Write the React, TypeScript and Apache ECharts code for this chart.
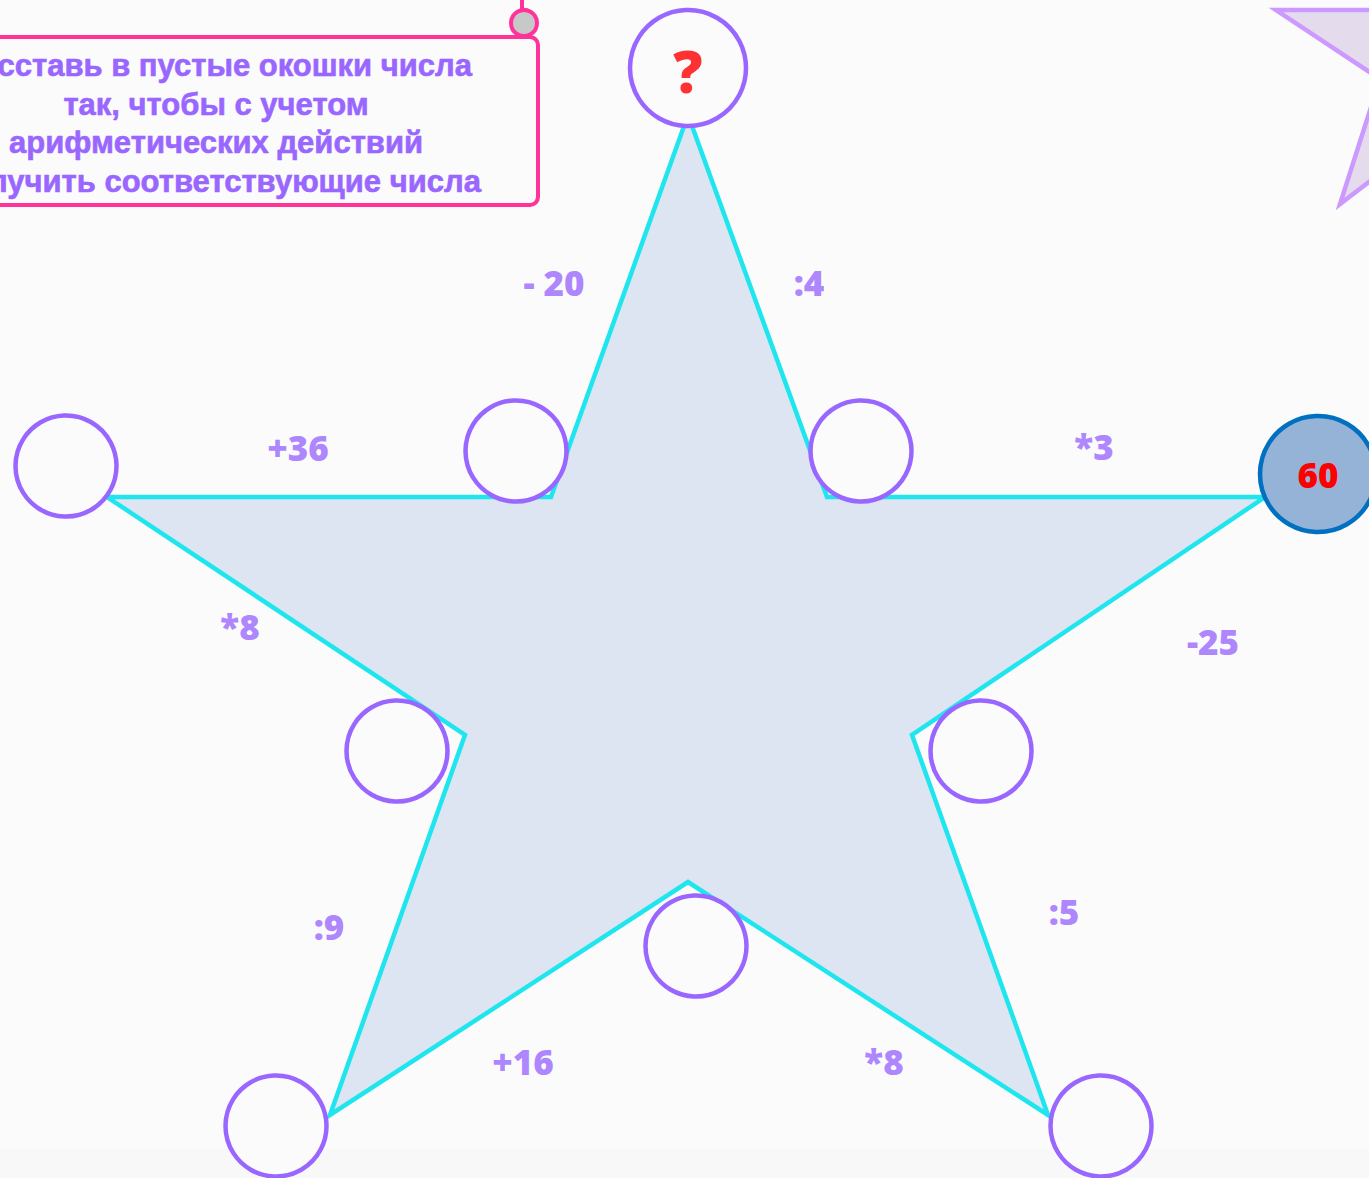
import React, { useEffect, useRef } from "react";
import * as echarts from "echarts";

const W = 1369;
const H = 1178;

// main star vertices (canvas units)
const starX = [688, 827, 1265, 912, 1048, 688, 330, 465, 107, 551];
const starY = [115, 497, 497, 735, 1115, 882, 1115, 735, 497, 497];

// decorative corner star vertices
const cornerX = [1458, 1502, 1640, 1529, 1571, 1450, 1340, 1380, 1276, 1415];
const cornerY = [-110, 10, 10, 85, 204, 120, 204, 79, 10, 10];

// empty windows
const circleX = [688, 516, 861, 66, 397, 981, 696, 276, 1101];
const circleY = [68, 451, 451, 466, 751, 751, 946, 1126, 1126];
const circleD = [116, 101, 101, 101, 101, 101, 101, 101, 101];

// given number
const givenX = [1318];
const givenY = [474];
const givenText = ["60"];

// operations
const opText = ["- 20", ":4", "+36", "*3", "*8", "-25", ":9", ":5", "+16", "*8"];
const opX = [554, 809, 298, 1094, 240, 1213, 329, 1064, 523, 884];
const opY = [282, 282, 447, 446, 626, 641, 926, 911, 1061, 1061];

const taskLines = [
  "Расставь в пустые окошки числа",
  "так, чтобы с учетом",
  "арифметических действий",
  "получить соответствующие числа",
];
const taskLineY = [65, 104, 142, 181];

export default function App() {
  const ref = useRef<HTMLDivElement>(null);
  useEffect(() => {
    document.body.style.margin = "0";
    const chart = echarts.init(ref.current!, null, { renderer: "svg" });
    const polySeries = (xs: number[], ys: number[], fill: string, stroke: string, z: number) => ({
      type: "custom",
      z,
      silent: true,
      data: [0],
      renderItem: (_p: any, api: any) => ({
        type: "polygon",
        shape: { points: xs.map((x, i) => api.coord([x, ys[i]])) },
        style: { fill, stroke, lineWidth: 4.5, lineJoin: "miter" },
      }),
    });
    const labelFont = { fontFamily: "'Open Sans'", fontWeight: 800 };
    chart.setOption({
      animation: false,
      backgroundColor: "#fbfbfb",
      grid: { left: 0, right: 0, top: 0, bottom: 0 },
      xAxis: { type: "value", min: 0, max: W, show: false },
      yAxis: { type: "value", min: 0, max: H, inverse: true, show: false },
      graphic: [
        { type: "rect", z: -10, shape: { x: 0, y: 1149, width: W, height: H - 1149 }, style: { fill: "#f8f8f8" } },
        {
          type: "rect",
          z: 10,
          shape: { x: -20, y: 37, width: 558, height: 168, r: 8 },
          style: { fill: "rgba(0,0,0,0)", stroke: "#ff3399", lineWidth: 4 },
        },
        { type: "line", z: 10, shape: { x1: 522, y1: 0, x2: 522, y2: 10 }, style: { stroke: "#ff3399", lineWidth: 4 } },
        {
          type: "circle",
          z: 11,
          shape: { cx: 524, cy: 23, r: 13 },
          style: { fill: "#c8c8c8", stroke: "#ff3399", lineWidth: 4 },
        },
        ...taskLines.map((t, i) => ({
          type: "text",
          z: 12,
          x: 216,
          y: taskLineY[i],
          style: {
            text: t,
            fill: "#9966ff",
            font: "bold 31px 'Liberation Sans', Arial, sans-serif",
            textAlign: "center",
            textVerticalAlign: "middle",
            stroke: "#9966ff",
            lineWidth: 0.6,
          },
        })),
      ],
      series: [
        polySeries(cornerX, cornerY, "#e4dcec", "#cc99ff", 1),
        polySeries(starX, starY, "#dce5f1", "#1fe6ee", 2),
        {
          type: "scatter",
          z: 3,
          silent: true,
          symbol: "circle",
          data: circleX.map((x, i) => ({ value: [x, circleY[i]], symbolSize: circleD[i] })),
          itemStyle: { color: "#fbfbfc", borderColor: "#9966ff", borderWidth: 4.5, opacity: 1 },
        },
        {
          type: "scatter",
          z: 4,
          silent: true,
          symbol: "circle",
          symbolSize: 116,
          data: givenX.map((x, i) => ({ value: [x, givenY[i]], name: givenText[i] })),
          itemStyle: { color: "#95b3d7", borderColor: "#0070c0", borderWidth: 4.5, opacity: 1 },
          label: {
            show: true,
            position: "inside",
            formatter: (p: any) => p.name,
            color: "#ff0000",
            ...labelFont,
            fontSize: 35,
          },
        },
        {
          type: "scatter",
          z: 5,
          silent: true,
          symbolSize: 0,
          data: [{ value: [688, 70], name: "?" }],
          label: {
            show: true,
            position: "inside",
            formatter: (p: any) => p.name,
            color: "#ff0000",
            ...labelFont,
            fontSize: 58,
          },
        },
        {
          type: "scatter",
          z: 5,
          silent: true,
          symbolSize: 0,
          data: opX.map((x, i) => ({ value: [x, opY[i]], name: opText[i] })),
          label: {
            show: true,
            position: "inside",
            formatter: (p: any) => p.name,
            color: "#9966ff",
            ...labelFont,
            fontSize: 35,
          },
        },
      ],
    });
    return () => chart.dispose();
  }, []);
  return <div ref={ref} style={{ width: W, height: H }} />;
}
